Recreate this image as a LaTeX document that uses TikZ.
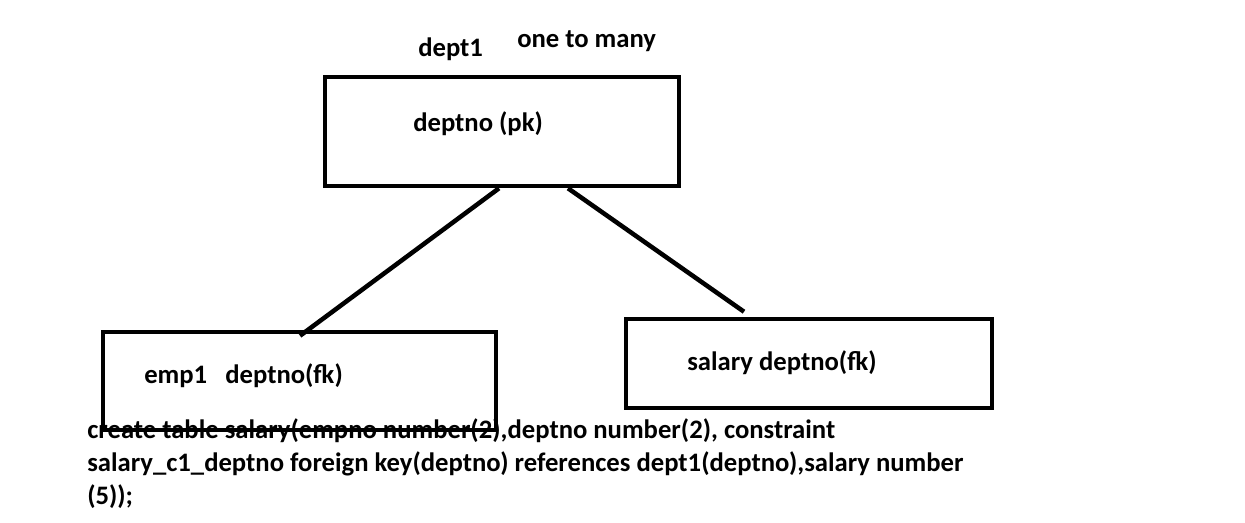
\documentclass[tikz,border=0pt]{standalone}
\usepackage{fontspec}
\setmainfont{Carlito}
\begin{document}
\begin{tikzpicture}[x=0.75pt, y=-0.75pt,
    tabella/.style={draw, line width=3.4pt, inner sep=0pt},
    testo/.style={font=\fontsize{20}{24.75}\selectfont\bfseries, inner sep=0pt}]
    \useasboundingbox (0,0) rectangle (1245,522);

    % Riquadri delle tabelle
    \node[tabella, minimum width=265.5pt, minimum height=81.75pt] (dept_box) at (502,131.5) {};
    \node[tabella, minimum width=294.75pt, minimum height=73.5pt] (emp_box) at (299.5,381) {};
    \node[tabella, minimum width=274.5pt, minimum height=66.75pt] (sal_box) at (809,363.5) {};

    % Titoli
    \node[testo, anchor=base west] (dept_title) at (418,56) {dept1};
    \node[testo, anchor=base west] (rel_title) at (517,47) {one to many};

    % Colonne
    \node[testo, anchor=base west] (dept_pk) at (413,131) {deptno (pk)};
    \node[testo, anchor=base west] (emp_fk) at (144,383) {emp1~~~deptno(fk)};
    \node[testo, anchor=base west] (sal_fk) at (687,370) {salary deptno(fk)};

    % Collegamenti
    \draw[line width=3.4pt] ([xshift=-2.25pt]dept_box.south) -- ([xshift=0.4pt,yshift=-4.5pt]emp_box.north);
    \draw[line width=3.4pt] ([xshift=49.5pt]dept_box.south) -- ([xshift=-48.75pt,yshift=3.75pt]sal_box.north);

    % Istruzione SQL
    \node[testo, anchor=base west, align=left] (sql_text) at (87,504) {create table salary(empno number(2),deptno number(2), constraint\\
    salary\_c1\_deptno foreign key(deptno) references dept1(deptno),salary number\\
    (5));};
\end{tikzpicture}
\end{document}
